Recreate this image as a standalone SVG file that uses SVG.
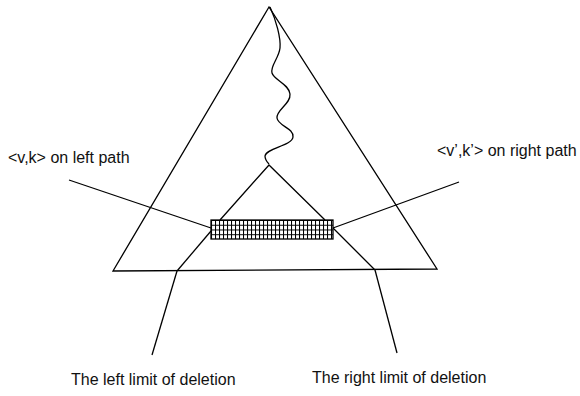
<svg xmlns="http://www.w3.org/2000/svg" width="580" height="396" viewBox="0 0 580 396">
<defs>
<style>
.ln{fill:none;stroke:#000;stroke-width:1.3}
.t{font-family:"Liberation Sans",Arial,sans-serif;font-size:16px;fill:#111}
</style>
<pattern id="grid" x="211" y="220" width="4" height="4.75" patternUnits="userSpaceOnUse">
<rect width="4" height="4.75" fill="#fff"/>
<path d="M0.5 0V4.75M0 0.5H4" stroke="#000" stroke-width="1.1" fill="none"/>
</pattern>
</defs>
<rect width="580" height="396" fill="#fff"/>
<g id="outer-triangle">
<polygon class="ln" points="269,7 113,271 437,269"/>
</g>
<g id="wiggle">
<path class="ln" d="M270,7 C276,20 281,38 280,48 C279,58 270,66 272,73 C274,80 289,84 290,94 C291,104 276,110 277,118 C278,126 294,128 293,137 C292,146 266,148 265,156 C265,160 267,162 269,164"/>
</g>
<g id="inner-triangle">
<polyline class="ln" points="220,220 269,165 325,220"/>
</g>
<g id="deletion-box">
<rect x="211" y="220" width="122" height="19" fill="url(#grid)" stroke="#000" stroke-width="1.3"/>
</g>
<g id="connectors">
<line class="ln" x1="211" y1="231" x2="177" y2="271"/>
<line class="ln" x1="333" y1="228" x2="375" y2="270"/>
<line class="ln" x1="69" y1="180" x2="211" y2="228"/>
<line class="ln" x1="459" y1="182" x2="333" y2="228"/>
<line class="ln" x1="177" y1="271" x2="152" y2="355"/>
<line class="ln" x1="375" y1="270" x2="397" y2="353"/>
</g>
<g id="labels">
<text class="t" x="8" y="163">&lt;v,k&gt; on left path</text>
<text class="t" x="437" y="156">&lt;v’,k’&gt; on right path</text>
<text class="t" x="71" y="385">The left limit of deletion</text>
<text class="t" x="312" y="383">The right limit of deletion</text>
</g>
</svg>
